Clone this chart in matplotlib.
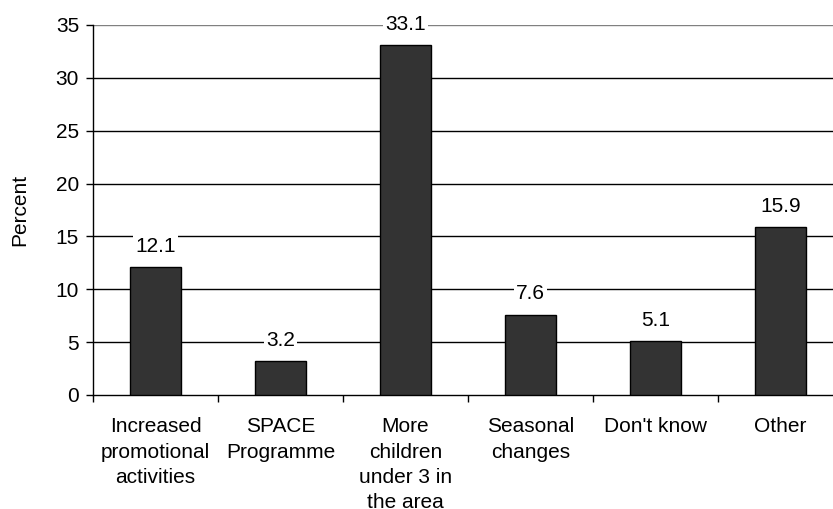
import matplotlib
matplotlib.use("Agg")
import matplotlib.pyplot as plt

categories = ["Increased\npromotional\nactivities", "SPACE\nProgramme",
              "More\nchildren\nunder 3 in\nthe area", "Seasonal\nchanges",
              "Don't know", "Other"]
percent = [12.1, 3.2, 33.1, 7.6, 5.1, 15.9]
yticks = [0, 5, 10, 15, 20, 25, 30, 35]

plt.rcParams['font.family'] = ['Liberation Sans', 'DejaVu Sans']
fs = 15

fig = plt.figure(figsize=(8.33, 5.09), dpi=100)
ax = fig.add_axes([93/833, 114/509, 750/833, 370/509])

x = range(len(categories))
ax.bar(x, percent, width=0.41, color="#333333", edgecolor="black", linewidth=1, zorder=3)

for i, v in enumerate(percent):
    ax.annotate(f"{v}", (i, v), xytext=(0, 15), textcoords="offset points",
                ha="center", va="center", fontsize=fs, zorder=4,
                bbox=dict(facecolor="white", edgecolor="none", pad=1.5))

ax.set_xlim(-0.5, len(categories) - 0.5)
ax.set_ylim(0, 35)
ax.set_yticks(yticks)
ax.tick_params(axis="y", labelsize=fs, length=5, width=1, pad=5)
for y in yticks[1:-1]:
    ax.axhline(y, color="black", linewidth=1, zorder=1)
ax.axhline(35, color="#808080", linewidth=1, zorder=1)

ax.set_xticks([i + 0.5 for i in range(-1, len(categories))], minor=False)
ax.set_xticklabels([])
ax.tick_params(axis="x", length=5, width=1, direction="out")
ax.set_xticks(list(x), minor=True)
ax.set_xticklabels(categories, minor=True, fontsize=fs, linespacing=1.42)
ax.tick_params(axis="x", which="minor", length=0, pad=16)

for s in ["top", "right"]:
    ax.spines[s].set_visible(False)
ax.spines["left"].set_linewidth(1)
ax.spines["bottom"].set_linewidth(1)

ax.set_ylabel("Percent", fontsize=fs, labelpad=19)

fig.savefig("out.png", dpi=100)
